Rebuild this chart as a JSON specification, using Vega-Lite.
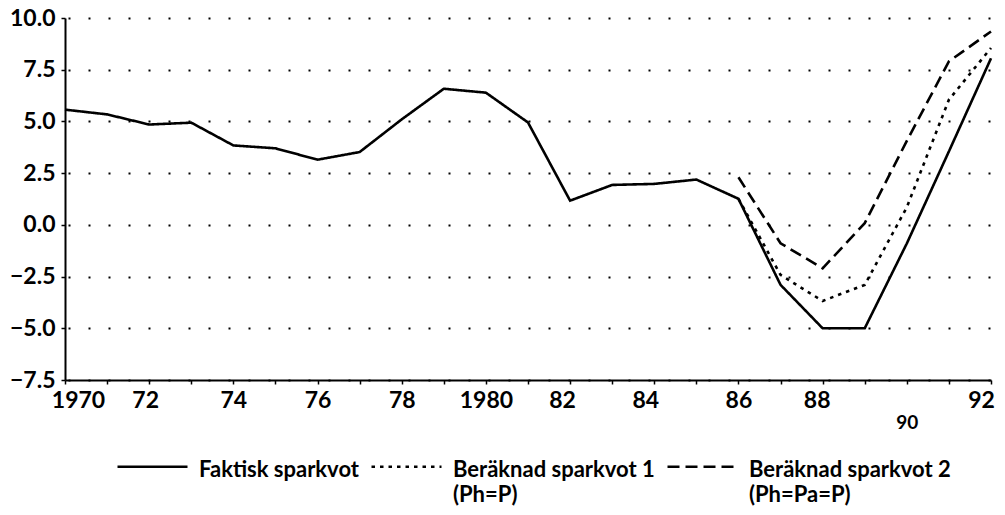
{
  "$schema": "https://vega.github.io/schema/vega-lite/v6.json",
  "width": 926,
  "height": 362,
  "autosize": {"type": "none"},
  "padding": {"left": 65, "top": 18, "right": 14, "bottom": 135},
  "background": "white",
  "config": {
    "view": {"stroke": null},
    "style": {"guide-label": {"lineHeight": 25}}
  },
  "data": {
    "values": [
      {"year": 1970, "series": "Faktisk sparkvot| ", "value": 5.57},
      {"year": 1971, "series": "Faktisk sparkvot| ", "value": 5.34},
      {"year": 1972, "series": "Faktisk sparkvot| ", "value": 4.85},
      {"year": 1973, "series": "Faktisk sparkvot| ", "value": 4.94},
      {"year": 1974, "series": "Faktisk sparkvot| ", "value": 3.84},
      {"year": 1975, "series": "Faktisk sparkvot| ", "value": 3.7},
      {"year": 1976, "series": "Faktisk sparkvot| ", "value": 3.15},
      {"year": 1977, "series": "Faktisk sparkvot| ", "value": 3.52},
      {"year": 1978, "series": "Faktisk sparkvot| ", "value": 5.1},
      {"year": 1979, "series": "Faktisk sparkvot| ", "value": 6.58},
      {"year": 1980, "series": "Faktisk sparkvot| ", "value": 6.39},
      {"year": 1981, "series": "Faktisk sparkvot| ", "value": 4.95},
      {"year": 1982, "series": "Faktisk sparkvot| ", "value": 1.17},
      {"year": 1983, "series": "Faktisk sparkvot| ", "value": 1.93},
      {"year": 1984, "series": "Faktisk sparkvot| ", "value": 1.98},
      {"year": 1985, "series": "Faktisk sparkvot| ", "value": 2.19},
      {"year": 1986, "series": "Faktisk sparkvot| ", "value": 1.26},
      {"year": 1987, "series": "Faktisk sparkvot| ", "value": -2.9},
      {"year": 1988, "series": "Faktisk sparkvot| ", "value": -5.0},
      {"year": 1989, "series": "Faktisk sparkvot| ", "value": -5.0},
      {"year": 1990, "series": "Faktisk sparkvot| ", "value": -0.9},
      {"year": 1991, "series": "Faktisk sparkvot| ", "value": 3.55},
      {"year": 1992, "series": "Faktisk sparkvot| ", "value": 8.05},
      {"year": 1986, "series": "Beräknad sparkvot 1|(Ph=P)", "value": 1.26},
      {"year": 1987, "series": "Beräknad sparkvot 1|(Ph=P)", "value": -2.42},
      {"year": 1988, "series": "Beräknad sparkvot 1|(Ph=P)", "value": -3.68},
      {"year": 1989, "series": "Beräknad sparkvot 1|(Ph=P)", "value": -2.9},
      {"year": 1990, "series": "Beräknad sparkvot 1|(Ph=P)", "value": 0.85},
      {"year": 1991, "series": "Beräknad sparkvot 1|(Ph=P)", "value": 6.05},
      {"year": 1992, "series": "Beräknad sparkvot 1|(Ph=P)", "value": 8.55},
      {"year": 1986, "series": "Beräknad sparkvot 2|(Ph=Pa=P)", "value": 2.3},
      {"year": 1987, "series": "Beräknad sparkvot 2|(Ph=Pa=P)", "value": -0.89},
      {"year": 1988, "series": "Beräknad sparkvot 2|(Ph=Pa=P)", "value": -2.1},
      {"year": 1989, "series": "Beräknad sparkvot 2|(Ph=Pa=P)", "value": 0.08},
      {"year": 1990, "series": "Beräknad sparkvot 2|(Ph=Pa=P)", "value": 4.06},
      {"year": 1991, "series": "Beräknad sparkvot 2|(Ph=Pa=P)", "value": 7.9},
      {"year": 1992, "series": "Beräknad sparkvot 2|(Ph=Pa=P)", "value": 9.35}
    ]
  },
  "mark": {"type": "line", "color": "black", "strokeWidth": 2.6, "clip": false},
  "encoding": {
    "x": {
      "field": "year",
      "type": "quantitative",
      "scale": {"domain": [1970, 1992], "nice": false, "zero": false},
      "axis": {
        "title": null,
        "values": [1970, 1971, 1972, 1973, 1974, 1975, 1976, 1977, 1978, 1979, 1980, 1981, 1982, 1983, 1984, 1985, 1986, 1987, 1988, 1989, 1990, 1991, 1992],
        "labelExpr": "datum.value == 1970 || datum.value == 1980 ? format(datum.value, 'd') : (datum.value % 2 == 0 ? format(datum.value % 100, '02d') : '')",
        "grid": false,
        "domainColor": "black",
        "domainWidth": 2,
        "tickColor": "black",
        "tickWidth": 1.5,
        "tickSize": 4,
        "labelFont": "Lato",
        "labelFontWeight": "bold",
        "labelColor": "black",
        "labelFontSize": {"condition": {"test": "datum.value == 1990", "value": 19}, "value": 23},
        "labelPadding": {"condition": {"test": "datum.value == 1990", "value": 29}, "value": 5},
        "labelOffset": {"condition": [
          {"test": "datum.value == 1970", "value": 13},
          {"test": "datum.value == 1992", "value": -10},
          {"test": "datum.value == 1982", "value": -8},
          {"test": "datum.value == 1984", "value": -9},
          {"test": "datum.value == 1988", "value": -6},
          {"test": "datum.value == 1972", "value": -4}
        ], "value": 0},
        "labelBaseline": "top",
        "labelOverlap": false,
        "labelFlush": false,
        "labelBound": false
      }
    },
    "y": {
      "field": "value",
      "type": "quantitative",
      "scale": {"domain": [-7.5, 10], "nice": false, "zero": false},
      "axis": {
        "title": null,
        "values": [-7.5, -5, -2.5, 0, 2.5, 5, 7.5, 10],
        "format": ".1f",
        "grid": true,
        "gridColor": "black",
        "gridWidth": 2,
        "gridDash": [2, 18],
        "gridDashOffset": 17,
        "gridOpacity": 1,
        "domainColor": "black",
        "domainWidth": 2,
        "tickColor": "black",
        "tickWidth": 1.5,
        "tickSize": 4,
        "labelFont": "Lato",
        "labelFontWeight": "bold",
        "labelFontSize": 23,
        "labelColor": "black",
        "labelPadding": 6,
        "labelOverlap": false,
        "labelFlush": false,
        "labelBound": false
      }
    },
    "strokeDash": {
      "field": "series",
      "type": "nominal",
      "scale": {
        "domain": ["Faktisk sparkvot| ", "Beräknad sparkvot 1|(Ph=P)", "Beräknad sparkvot 2|(Ph=Pa=P)"],
        "range": [[1, 0], [3.5, 5], [12, 6]]
      },
      "legend": {
        "orient": "none",
        "legendX": 51,
        "legendY": 405,
        "direction": "horizontal",
        "columns": 3,
        "title": null,
        "padding": 0,
        "columnPadding": 7,
        "symbolType": "M-1,0.2H1",
        "symbolSize": 4900,
        "symbolStrokeWidth": 2.6,
        "symbolStrokeColor": "black",
        "symbolFillColor": "transparent",
        "labelFont": "Lato",
        "labelFontSize": 22,
        "labelFontWeight": "bold",
        "labelColor": "black",
        "labelBaseline": "top",
        "labelOffset": 10,
        "labelLimit": 600,
        "labelExpr": "split(datum.label, '|')"
      }
    }
  }
}
